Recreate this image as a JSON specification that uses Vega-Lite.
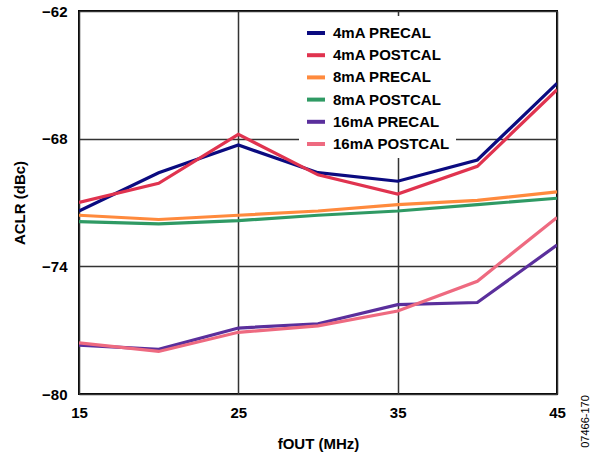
{
  "$schema": "https://vega.github.io/schema/vega-lite/v6.json",
  "autosize": {"type": "none"},
  "padding": {"left": 79, "top": 11, "right": 40, "bottom": 59},
  "width": 478,
  "height": 383,
  "background": "white",
  "config": {
    "font": "Liberation Sans",
    "view": {"stroke": "black", "strokeWidth": 2},
    "axis": {"labelFont": "Liberation Sans", "titleFont": "Liberation Sans"}
  },
  "data": {"values": [
    {"f": 15, "aclr": -71.4, "s": "4mA PRECAL"},
    {"f": 20, "aclr": -69.6, "s": "4mA PRECAL"},
    {"f": 25, "aclr": -68.3, "s": "4mA PRECAL"},
    {"f": 30, "aclr": -69.6, "s": "4mA PRECAL"},
    {"f": 35, "aclr": -70.0, "s": "4mA PRECAL"},
    {"f": 40, "aclr": -69.0, "s": "4mA PRECAL"},
    {"f": 45, "aclr": -65.4, "s": "4mA PRECAL"},
    {"f": 15, "aclr": -71.0, "s": "4mA POSTCAL"},
    {"f": 20, "aclr": -70.1, "s": "4mA POSTCAL"},
    {"f": 25, "aclr": -67.8, "s": "4mA POSTCAL"},
    {"f": 30, "aclr": -69.7, "s": "4mA POSTCAL"},
    {"f": 35, "aclr": -70.6, "s": "4mA POSTCAL"},
    {"f": 40, "aclr": -69.3, "s": "4mA POSTCAL"},
    {"f": 45, "aclr": -65.7, "s": "4mA POSTCAL"},
    {"f": 15, "aclr": -71.6, "s": "8mA PRECAL"},
    {"f": 20, "aclr": -71.8, "s": "8mA PRECAL"},
    {"f": 25, "aclr": -71.6, "s": "8mA PRECAL"},
    {"f": 30, "aclr": -71.4, "s": "8mA PRECAL"},
    {"f": 35, "aclr": -71.1, "s": "8mA PRECAL"},
    {"f": 40, "aclr": -70.9, "s": "8mA PRECAL"},
    {"f": 45, "aclr": -70.5, "s": "8mA PRECAL"},
    {"f": 15, "aclr": -71.9, "s": "8mA POSTCAL"},
    {"f": 20, "aclr": -72.0, "s": "8mA POSTCAL"},
    {"f": 25, "aclr": -71.85, "s": "8mA POSTCAL"},
    {"f": 30, "aclr": -71.6, "s": "8mA POSTCAL"},
    {"f": 35, "aclr": -71.4, "s": "8mA POSTCAL"},
    {"f": 40, "aclr": -71.1, "s": "8mA POSTCAL"},
    {"f": 45, "aclr": -70.8, "s": "8mA POSTCAL"},
    {"f": 15, "aclr": -77.7, "s": "16mA PRECAL"},
    {"f": 20, "aclr": -77.9, "s": "16mA PRECAL"},
    {"f": 25, "aclr": -76.9, "s": "16mA PRECAL"},
    {"f": 30, "aclr": -76.7, "s": "16mA PRECAL"},
    {"f": 35, "aclr": -75.8, "s": "16mA PRECAL"},
    {"f": 40, "aclr": -75.7, "s": "16mA PRECAL"},
    {"f": 45, "aclr": -73.0, "s": "16mA PRECAL"},
    {"f": 15, "aclr": -77.6, "s": "16mA POSTCAL"},
    {"f": 20, "aclr": -78.0, "s": "16mA POSTCAL"},
    {"f": 25, "aclr": -77.1, "s": "16mA POSTCAL"},
    {"f": 30, "aclr": -76.8, "s": "16mA POSTCAL"},
    {"f": 35, "aclr": -76.1, "s": "16mA POSTCAL"},
    {"f": 40, "aclr": -74.7, "s": "16mA POSTCAL"},
    {"f": 45, "aclr": -71.7, "s": "16mA POSTCAL"}
  ]},
  "resolve": {"axis": {"y": "independent"}},
  "layer": [
    {
      "mark": {"type": "line", "strokeWidth": 3.2, "clip": true},
      "encoding": {
        "x": {
          "field": "f", "type": "quantitative",
          "scale": {"domain": [15, 45], "nice": false, "zero": false},
          "axis": {
            "values": [15, 25, 35, 45], "title": "fOUT (MHz)",
            "ticks": false, "domain": false, "grid": true,
            "gridColor": "#333333", "gridWidth": 1.5, "gridOpacity": 1,
            "labelFontSize": 15, "labelFontWeight": "bold", "labelColor": "black",
            "labelPadding": 11, "labelFlush": false,
            "titleFontSize": 15, "titleFontWeight": "bold", "titleColor": "black",
            "titlePadding": 16
          }
        },
        "y": {
          "field": "aclr", "type": "quantitative",
          "scale": {"domain": [-80, -62], "nice": false, "zero": false},
          "axis": {
            "values": [-80, -74, -68, -62], "title": "ACLR (dBc)",
            "ticks": false, "domain": false, "grid": true,
            "gridColor": "#333333", "gridWidth": 1.5, "gridOpacity": 1,
            "labelFontSize": 15, "labelFontWeight": "bold", "labelColor": "black",
            "labelPadding": 12, "labelFlush": false,
            "titleFontSize": 15, "titleFontWeight": "bold", "titleColor": "black",
            "titlePadding": 14
          }
        },
        "color": {
          "field": "s", "type": "nominal",
          "scale": {
            "domain": ["4mA PRECAL", "4mA POSTCAL", "8mA PRECAL", "8mA POSTCAL", "16mA PRECAL", "16mA POSTCAL"],
            "range": ["#0b0b80", "#e0334f", "#ff8a3d", "#2f9a64", "#5a2f9c", "#ee6a80"]
          },
          "legend": {
            "orient": "none", "legendX": 220, "legendY": 5,
            "title": null, "fillColor": "white", "padding": 6,
            "symbolType": "stroke", "symbolSize": 324, "symbolStrokeWidth": 4,
            "labelFontSize": 15, "labelFontWeight": "bold", "labelColor": "black",
            "labelOffset": 6, "rowPadding": 3.2, "labelFont": "Liberation Sans"
          }
        }
      }
    },
    {
      "mark": {"type": "point", "opacity": 0},
      "encoding": {
        "x": {"field": "f", "type": "quantitative"},
        "y": {
          "field": "aclr", "type": "quantitative",
          "axis": {
            "orient": "right", "labels": false, "ticks": false, "domain": false, "grid": false,
            "title": "07466-170", "titleAngle": 270, "titleFontSize": 11,
            "titleFontWeight": "normal", "titleFont": "Liberation Sans", "titleColor": "black",
            "titleX": 28, "titleY": 410, "titleAlign": "center", "titleBaseline": "middle"
          }
        }
      }
    }
  ]
}
